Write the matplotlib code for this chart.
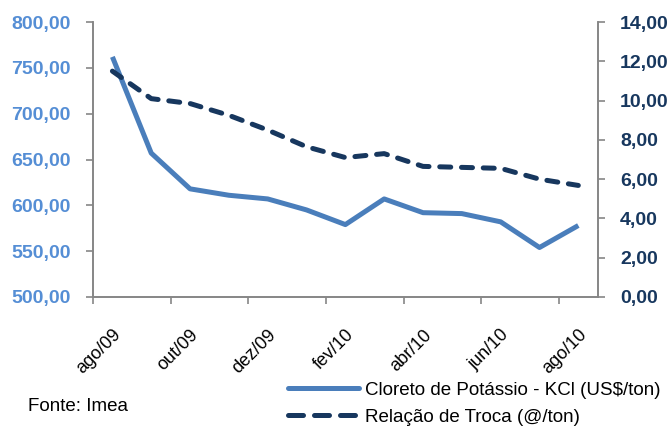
import matplotlib
matplotlib.use("Agg")
import matplotlib.pyplot as plt
from matplotlib.lines import Line2D
from matplotlib.ticker import FuncFormatter

# ---------------------------------------------------------------------------
# Data
# ---------------------------------------------------------------------------
months = ["ago/09", "set/09", "out/09", "nov/09", "dez/09", "jan/10", "fev/10",
          "mar/10", "abr/10", "mai/10", "jun/10", "jul/10", "ago/10"]
kcl_price = [762, 657, 618, 611, 607, 595, 579, 607, 592, 591, 582, 554, 578]
troca = [11.5, 10.1, 9.85, 9.25, 8.5, 7.65, 7.1, 7.3, 6.65, 6.6, 6.55, 6.0, 5.68]

kcl_label = "Cloreto de Potássio - KCl (US$/ton)"
troca_label = "Relação de Troca (@/ton)"
source = "Fonte: Imea"

# ---------------------------------------------------------------------------
# Style
# ---------------------------------------------------------------------------
plt.rcParams["font.family"] = ["Liberation Sans", "DejaVu Sans"]
c_kcl = "#4a7ebb"
c_kcl_txt = "#558ed5"
c_troca = "#17375e"
c_axis = "#868686"
LW = 3.6


def br_number(v, _):
    # 1234.5 -> "1.234,50"
    return f"{v:,.2f}".replace(",", "X").replace(".", ",").replace("X", ".")


fig = plt.figure(figsize=(6.71, 4.32), dpi=100)
ax = fig.add_axes([0.1386, 0.3125, 0.7522, 0.6365])
ax2 = ax.twinx()

x = list(range(len(months)))
ax.plot(x, kcl_price, color=c_kcl, lw=LW, solid_capstyle="butt",
        solid_joinstyle="round", zorder=3)
ax2.plot(x, troca, color=c_troca, lw=LW, ls=(0, (2.2, 2.15)),
         dash_capstyle="round", zorder=3)

ax.set_xlim(-0.5, len(months) - 0.5)
ax.set_ylim(500, 800)
ax2.set_ylim(0, 14)
ax.set_yticks(range(500, 801, 50))
ax2.set_yticks(range(0, 15, 2))
ax.yaxis.set_major_formatter(FuncFormatter(br_number))
ax2.yaxis.set_major_formatter(FuncFormatter(br_number))

# tick marks on category boundaries, labels on every 2nd category
ax.set_xticks([i - 0.5 for i in range(0, len(months) + 1, 2)])
ax.set_xticklabels([])
ax.set_xticks(x[::2], months[::2], minor=True)
ax.tick_params(axis="x", which="minor", length=0, pad=21, labelsize=13)
for t in ax.get_xticklabels(minor=True):
    t.set_rotation(45)
    t.set_ha("right")
    t.set_va("top")
    t.set_rotation_mode("anchor")

ax.tick_params(axis="x", which="major", length=5, color=c_axis, width=1.2)
ax.tick_params(axis="y", length=5, color=c_axis, width=1.2, pad=11,
               labelsize=14, labelcolor=c_kcl_txt)
ax2.tick_params(axis="y", length=5, color=c_axis, width=1.2, pad=11,
                labelsize=14, labelcolor=c_troca)
for t in ax.get_yticklabels() + ax2.get_yticklabels():
    t.set_fontweight("bold")

for a in (ax, ax2):
    a.spines["top"].set_visible(False)
    for s in ("left", "right", "bottom"):
        a.spines[s].set_color(c_axis)
        a.spines[s].set_linewidth(1.2)

# legend handles (the dashed one uses longer dashes, as in the original)
h1 = Line2D([], [], color=c_kcl, lw=LW, solid_capstyle="round")
h2 = Line2D([], [], color=c_troca, lw=LW, ls=(0, (3.0, 2.2)),
            dash_capstyle="round")
fig.legend([h1, h2], [kcl_label, troca_label], loc="upper left",
           bbox_to_anchor=(0.429, 0.116), frameon=False, fontsize=13.5,
           handlelength=3.8, handletextpad=0.3, labelspacing=0.5,
           borderaxespad=0, borderpad=0)
fig.text(0.042, 0.058, source, fontsize=13.5, va="center")

fig.savefig("out.png", dpi=100)
